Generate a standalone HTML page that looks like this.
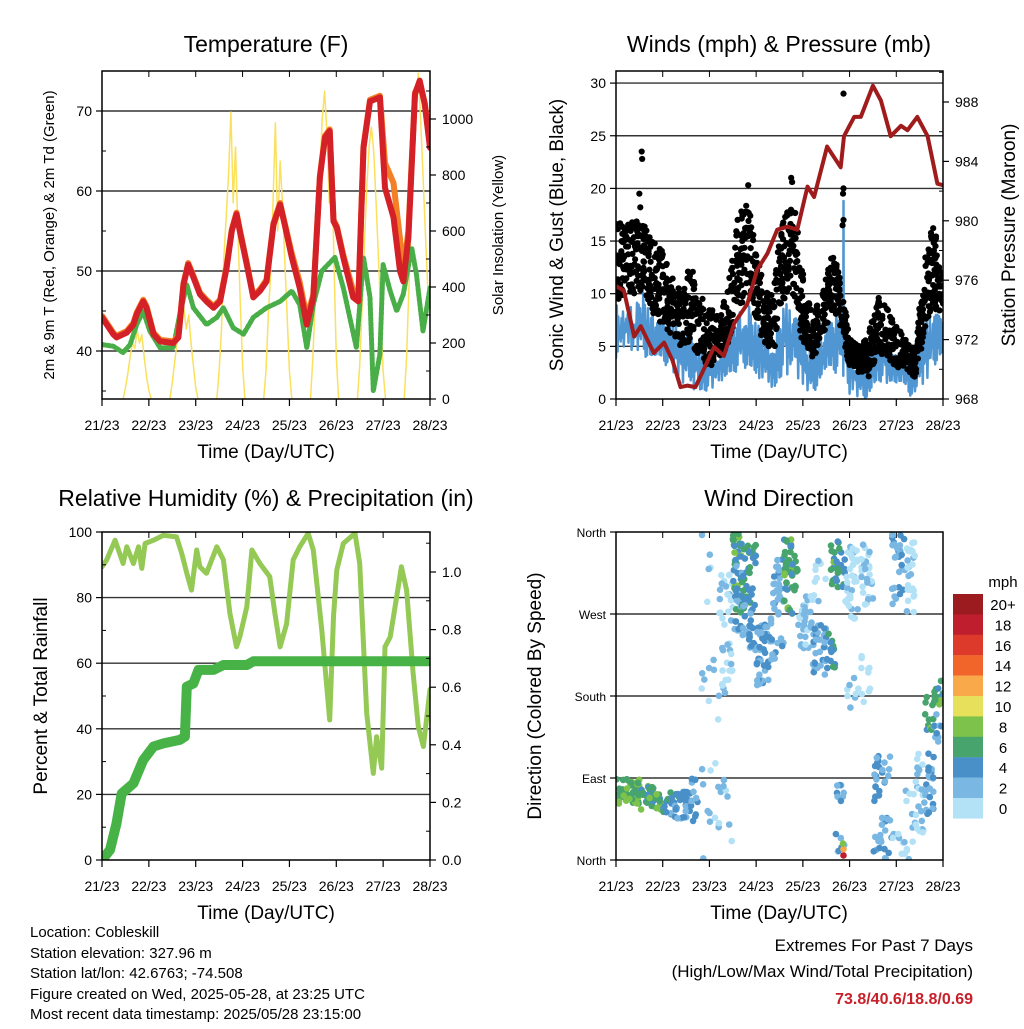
<!DOCTYPE html>
<html><head><meta charset="utf-8"><style>
html,body{margin:0;padding:0;background:#fff;}
svg text{font-family:"Liberation Sans",Arial,sans-serif;fill:#000;}
</style></head><body>
<svg id="chart" width="1024" height="1024" viewBox="0 0 1024 1024" xmlns="http://www.w3.org/2000/svg">
<defs>
<clipPath id="c1"><rect x="102" y="71" width="328" height="328"/></clipPath>
<clipPath id="c2"><rect x="616" y="71" width="327" height="328"/></clipPath>
<clipPath id="c3"><rect x="102" y="532" width="328" height="328"/></clipPath>
<clipPath id="c4"><rect x="616" y="532" width="327" height="328"/></clipPath>
</defs>
<g id="g1"></g>
<g id="g2"></g>
<g id="g3"></g>
<g id="g4"></g>
<text x="266" y="52" font-size="23" text-anchor="middle">Temperature (F)</text>
<text x="779" y="52" font-size="23" text-anchor="middle">Winds (mph) &amp; Pressure (mb)</text>
<text x="266" y="506" font-size="23" text-anchor="middle">Relative Humidity (%) &amp; Precipitation (in)</text>
<text x="779" y="506" font-size="23" text-anchor="middle">Wind Direction</text>
<text transform="translate(54,235) rotate(-90)" font-size="15" text-anchor="middle">2m &amp; 9m T (Red, Orange) &amp; 2m Td (Green)</text>
<text transform="translate(503,235) rotate(-90)" font-size="15" text-anchor="middle">Solar Insolation (Yellow)</text>
<text transform="translate(563,235) rotate(-90)" font-size="19" text-anchor="middle">Sonic Wind &amp; Gust (Blue, Black)</text>
<text transform="translate(1015,235) rotate(-90)" font-size="19" text-anchor="middle">Station Pressure (Maroon)</text>
<text transform="translate(47,696) rotate(-90)" font-size="19" text-anchor="middle">Percent &amp; Total Rainfall</text>
<text transform="translate(541,696) rotate(-90)" font-size="19" text-anchor="middle">Direction (Colored By Speed)</text>
<text x="266" y="458" font-size="19" text-anchor="middle">Time (Day/UTC)</text>
<text x="779" y="458" font-size="19" text-anchor="middle">Time (Day/UTC)</text>
<text x="266" y="919" font-size="19" text-anchor="middle">Time (Day/UTC)</text>
<text x="779" y="919" font-size="19" text-anchor="middle">Time (Day/UTC)</text>
<g font-size="15">
<text x="30" y="937">Location: Cobleskill</text>
<text x="30" y="958">Station elevation: 327.96 m</text>
<text x="30" y="978">Station lat/lon: 42.6763; -74.508</text>
<text x="30" y="999">Figure created on Wed, 2025-05-28, at 23:25 UTC</text>
<text x="30" y="1019">Most recent data timestamp: 2025/05/28 23:15:00</text>
</g>
<text x="973" y="951" font-size="17" text-anchor="end">Extremes For Past 7 Days</text>
<text x="973" y="977" font-size="17" text-anchor="end">(High/Low/Max Wind/Total Precipitation)</text>
<text x="973" y="1004" font-size="16" font-weight="bold" text-anchor="end" style="fill:#c8202a">73.8/40.6/18.8/0.69</text>
<g id="cbar"></g>
</svg>
<script>
const dayLabels=["21/23","22/23","23/23","24/23","25/23","26/23","27/23","28/23"];
// Temperature
const tempT=[0,0.24,0.31,0.53,0.67,0.74,0.88,0.95,1.1,1.24,1.52,1.63,1.74,1.84,1.95,2.09,2.23,2.38,2.52,2.66,2.77,2.87,2.94,3.09,3.23,3.37,3.51,3.66,3.8,3.9,4.05,4.22,4.37,4.51,4.65,4.76,4.86,4.94,5.01,5.15,5.36,5.47,5.58,5.72,5.93,6.04,6.22,6.36,6.43,6.54,6.68,6.78,6.89,7.0];
const tempRed=[44.2,42.1,41.7,42.3,43.3,44.6,46.2,45.4,42.1,41.2,41.0,41.7,48.3,50.8,49.2,47.1,46.2,45.4,46.2,50.4,55,57.1,55,50.8,46.7,47.5,48.7,55.8,58.3,55.8,51.7,47.9,43.3,46.7,61.7,66.7,67.5,56.2,55.4,51.7,46.7,46.2,65.4,71.2,71.7,60.4,56.7,50,48.7,54.2,72.1,73.8,70.8,65.4];
const tempOrange=[44.4,42.3,41.9,42.5,43.5,44.8,46.4,45.6,42.3,41.4,41.2,41.9,48.5,51,49.4,47.3,46.4,45.6,46.4,50.6,55.2,57.3,55.2,51,46.9,47.7,48.9,56,58.5,56,52.2,48.6,44.2,47,61.9,66.9,67.7,56.4,55.6,52,47.5,46.5,65.6,71.4,71.9,63.5,61,54,50,55,72.3,73.6,71,65.6];
const dewT=[0,0.24,0.45,0.6,0.74,0.88,1.02,1.24,1.52,1.66,1.81,1.95,2.23,2.45,2.59,2.8,3.02,3.23,3.51,3.8,4.05,4.22,4.37,4.51,4.69,4.97,5.15,5.43,5.58,5.72,5.79,5.93,6.0,6.15,6.29,6.43,6.61,6.71,6.85,7.0];
const dewVal=[40.8,40.6,39.8,40.8,43.3,45,42.5,40.4,40.4,44.6,48.3,45.4,43.3,44.2,45.4,42.9,42.1,44.2,45.4,46.2,47.5,45.8,40.4,45.8,50,51.7,47.9,40.4,51.7,46.7,35,39.6,50.8,47.5,45,47.1,52.9,49.6,42.5,47.9];
const solarStart=[0.45,1.45,2.45,3.45,4.45,5.45,6.45];
const solarDay0=[0,40,90,150,200,180,246,200,230,150,80,30,0];
const solarDay1=[0,60,130,200,280,364,320,250,300,200,120,40,0];
const solarDay2=[0,100,250,500,650,800,1025,700,900,600,350,120,0];
const solarDay3=[0,100,300,450,700,986,600,850,700,500,300,100,0];
const solarDay4=[0,150,350,600,800,1000,1100,950,700,900,500,150,0];
const solarDay5=[0,120,330,550,750,900,971,880,700,500,300,100,0];
const solarDay6=[0,150,400,650,850,1050,1164,1000,800,600,400];
const solarDays=[solarDay0,solarDay1,solarDay2,solarDay3,solarDay4,solarDay5,solarDay6];
// Winds
const presT=[0,0.17,0.39,0.53,0.81,1.03,1.21,1.38,1.53,1.7,1.88,2.1,2.31,2.53,2.81,3.02,3.24,3.45,3.67,3.88,4.1,4.24,4.52,4.81,4.88,5.1,5.24,5.5,5.67,5.88,6.1,6.24,6.45,6.67,6.88,7.0];
const presVal=[975.6,975.3,972.2,972.9,971.1,971.8,970.6,968.8,968.9,968.8,970,971.5,970.9,973.1,974.4,976.7,977.8,979.4,979.6,979.4,982.3,981.6,985,983.6,985.7,987,987,989.1,988.1,985.7,986.4,986.1,987,985.7,982.5,982.4];
const windT=[0,0.2,0.4,0.6,0.8,1.0,1.2,1.4,1.6,1.8,2.0,2.2,2.4,2.6,2.8,3.0,3.2,3.4,3.6,3.8,4.0,4.2,4.4,4.6,4.8,5.0,5.2,5.4,5.6,5.8,6.0,6.2,6.4,6.6,6.8,7.0];
const windHi=[9.1,8.4,9,10.5,9,8.5,7.5,6.6,6,5.5,4.5,5,6.5,8,9.4,7.5,6,6.5,9.8,9.4,6,4.5,6,9.1,9.4,5,4,4.5,7,6,4.5,5.5,3.5,7,9.5,8];
const windLo=[3.9,5,4.5,4,2.7,3.4,2.7,1.2,1,0.8,0.5,1.5,2,2.7,3,2,1.5,1,2.5,2,1,0.5,1.5,2,2.5,0.5,0,0,1,1.5,0.5,0.5,0,1.5,3,3];
const gustHi=[17,16.5,17,16.5,15,14,12,10,13,10,9,8,11,17,20,14,10,12,18,19.5,12,8,10,14,12,6,5,6,10,9,7,6,5,13,17,12];
const gustLo=[9,10,10,10,8,7,6,5,5,4,3,4,5,8,10,7,5,5,9,10,5,4,5,8,7,3,2.5,2,4,4,3,3,2,6,9,7];
const spikeT=[4.87];
const spikeVal=[18.8];
const gustOutT=[0.55,0.56,0.5,0.52,4.87,4.87,4.86,4.87,4.85,2.83,3.75,3.77];
const gustOutVal=[23.5,22.8,19.5,18.2,29,20,19.5,17,16.5,20.3,21,20.6];
// Humidity & precip
const rhT=[0,0.1,0.28,0.45,0.53,0.67,0.78,0.85,0.92,1.1,1.31,1.59,1.7,1.81,1.91,2.02,2.09,2.23,2.45,2.59,2.73,2.87,2.94,3.09,3.2,3.37,3.58,3.69,3.8,3.94,4.08,4.22,4.4,4.51,4.69,4.86,4.94,5.01,5.15,5.4,5.5,5.65,5.79,5.86,5.97,6.04,6.15,6.29,6.39,6.5,6.64,6.75,6.86,7.0];
const rhVal=[89.4,91.5,97.5,90.4,95.5,90.4,95.5,88.9,96.5,97.5,99,98.5,93.5,87.4,82.3,94.5,89.4,87.4,95.5,91.5,75.2,65,68,77.2,94.5,90.4,86.4,75.2,65,72,91.5,95.5,99.6,94.5,70.1,42.7,74.2,88.4,96.5,99.6,90.4,44.8,26.4,37.6,28,65,68,80.3,89.4,82.3,57,40.6,34.6,52];
const prT=[0,0.17,0.31,0.42,0.67,0.88,1.1,1.31,1.66,1.77,1.81,1.95,2.06,2.38,2.59,3.09,3.23,4.01,4.08,7.0];
const prVal=[0,0.035,0.127,0.231,0.266,0.347,0.394,0.405,0.417,0.428,0.602,0.613,0.66,0.66,0.677,0.677,0.69,0.69,0.69,0.69];
// Wind direction bins
const dirStart=[0,0.5,1.0,1.6,1.8,2.2,2.2,2.5,2.5,2.7,2.7,3.0,3.3,3.6,3.9,4.2,4.2,4.5,4.6,4.7,4.7,4.7,4.9,4.9,5.2,5.2,5.5,5.9,5.9,6.2,6.2,6.4,6.6,6.6,6.8,6.8];
const dirEnd=[0.5,1.0,1.6,1.75,2.2,2.5,2.5,2.7,2.7,3.0,3.0,3.3,3.6,3.9,4.2,4.5,4.5,4.7,4.7,4.9,4.9,4.9,5.2,5.2,5.5,5.5,5.9,6.2,6.2,6.4,6.4,6.6,6.8,6.8,7.0,7.0];
const dirLo=[62,55,45,40,0,180,20,270,250,270,230,190,220,270,230,200,280,210,300,290,0,60,260,160,280,170,0,280,0,270,0,30,50,140,170,130];
const dirHi=[90,82,75,90,360,320,90,360,330,350,290,260,330,355,290,260,330,250,360,360,40,90,350,200,350,230,120,360,30,350,80,120,120,190,200,160];
const dirSpeed=[7.5,7,5,4,2,2,2,7,4,6.5,4,4,3.5,7,2.5,4,1.5,5.5,7,6,3,4,1.5,1.5,1.5,1,4,3.5,2,1.5,1,2,4.5,7,7,4];
const dirCount=[45,40,40,12,25,40,8,35,20,35,25,40,40,45,35,30,10,14,12,18,6,8,35,8,30,10,45,30,8,25,10,25,22,10,14,10];
const cbColors=["#9b1b1e","#be1e2d","#dd3a2c","#f1652a","#f9a94a","#e6e05a","#7dc24b","#46a46c","#4a90c8","#7ab8e3","#b3e2f7"];
const cbLabels=["20+","18","16","14","12","10","8","6","4","2","0"];

const NS="http://www.w3.org/2000/svg";
function mk(parent,tag,attrs){const e=document.createElementNS(NS,tag);for(const k in attrs)e.setAttribute(k,attrs[k]);parent.appendChild(e);return e;}
function txt(parent,x,y,s,size,anchor){const e=mk(parent,"text",{x:x,y:y,"font-size":size,"text-anchor":anchor});e.textContent=s;return e;}
function hq(n,a,b){const v=(n*n*a+n*b)%1;return v<0?v+1:v;}

const X1=t=>102+t/7*328, X2=t=>616+t/7*327;
const yT=v=>399-(v-34)*8, ySol=v=>399-v*0.28;
const yW=v=>399-v*10.53, yP=p=>399-(p-968)*14.85;
const yRH=v=>860-v*3.28, yPr=v=>860-v*288;
const yD=d=>860-d*82/90;

function frame(g,x0,y0,w,h,X){
  for(let i=0;i<8;i++){const x=X(i);
    const tk=mk(g,"line",{x1:x,x2:x,y1:y0+h,y2:y0+h+7,stroke:"#000","stroke-width":1.2});
    
    
    mk(g,"line",{x1:x,x2:x,y1:y0,y2:y0+6,stroke:"#000","stroke-width":1});
    const l=txt(g,x,y0+h+31,dayLabels[i],14,"middle");
    
    
  }
  const r=mk(g,"rect",{x:x0,y:y0,width:w,height:h,fill:"none",stroke:"#000","stroke-width":1.5});
  
  
}
function grid(g,x0,w,ys){ys.forEach(y=>{const l=mk(g,"line",{x1:x0,x2:x0+w,y1:y,y2:y,stroke:"#333","stroke-width":1.4});
  
  });}
function yTicks(g,x,vals,Y,labels,side,size,minor){
  vals.forEach((v,i)=>{const y=Y(v);
    const dx=side==="left"?-6:6;
    mk(g,"line",{x1:x,x2:x+dx,y1:y,y2:y,stroke:"#000","stroke-width":1.2});
    const l=txt(g,side==="left"?x-10:x+12,y+5,labels[i],size,side==="left"?"end":"start");
    
    
  });
  (minor||[]).forEach(v=>{const y=Y(v);mk(g,"line",{x1:x,x2:x+(side==="left"?4:-4),y1:y,y2:y,stroke:"#000","stroke-width":1});});
}
function poly(g,T,V,X,Y,attrs,name){const pts=T.map((t,i)=>X(t).toFixed(1)+","+Y(V[i]).toFixed(1)).join(" ");
  const p=mk(g,"polyline",Object.assign({points:pts,fill:"none","stroke-linejoin":"round","stroke-linecap":"round"},attrs));
  
  return p;}

// Panel 1
(function(){
  const g=document.getElementById("g1");
  grid(g,102,328,[40,50,60,70].map(yT));
  const c=mk(g,"g",{"clip-path":"url(#c1)"});
  solarDays.forEach((arr,d)=>{const T=arr.map((v,i)=>solarStart[d]+i*0.05);
    poly(c,T,arr,X1,ySol,{stroke:"#fbe05c","stroke-width":1.5},"solar-line-day"+d);});
  poly(c,dewT,dewVal,X1,yT,{stroke:"#49ae47","stroke-width":5,"stroke-dasharray":"3 2"},"dewpoint-line");
  poly(c,tempT,tempOrange,X1,yT,{stroke:"#f37f26","stroke-width":6},"temp-9m-line");
  poly(c,tempT,tempRed,X1,yT,{stroke:"#d42027","stroke-width":6},"temp-2m-line");
  yTicks(g,102,[40,50,60,70],yT,["40","50","60","70"],"left",14,[35,45,55,65,75]);
  yTicks(g,430,[0,200,400,600,800,1000],ySol,["0","200","400","600","800","1000"],"right",14,[100,300,500,700,900,1100]);
  frame(g,102,71,328,328,X1);
})();
// Panel 2
(function(){
  const g=document.getElementById("g2");
  grid(g,616,327,[5,10,15,20,25,30].map(yW));
  const c=mk(g,"g",{"clip-path":"url(#c2)"});
  const zT=[],zV=[];
  for(let i=0;i<windT.length-1;i++){for(let k=0;k<12;k++){const f=k/12;const t=windT[i]+f*(windT[i+1]-windT[i]);
    const lo=windLo[i]+f*(windLo[i+1]-windLo[i]),hi=windHi[i]+f*(windHi[i+1]-windHi[i]);
    const n=i*12+k;
    const r=k%2?0.55+0.45*hq(n,0.618,0.31):0.45*hq(n,0.414,0.27);zT.push(t);zV.push(lo+(hi-lo)*r);}}
  zT.push(spikeT[0]-0.005,spikeT[0],spikeT[0]+0.005);zV.push(6,spikeVal[0],6);
  const order=zT.map((t,i)=>i).sort((a,b)=>zT[a]-zT[b]);
  poly(c,order.map(i=>zT[i]),order.map(i=>zV[i]),X2,yW,{stroke:"#4f96d2","stroke-width":2.5},"sustained-wind-line");
  const gd=mk(c,"g",{fill:"#000"});
  
  
  for(let i=0;i<windT.length-1;i++){for(let k=0;k<40;k++){const n=i*40+k+1;const f=hq(n,0.7548,0.123);const t=windT[i]+f*(windT[i+1]-windT[i]);
    const lo=gustLo[i]+f*(gustLo[i+1]-gustLo[i]),hi=gustHi[i]+f*(gustHi[i+1]-gustHi[i]);
    const v=lo+(hi-lo)*hq(n,0.5698,0.377);
    mk(gd,"circle",{cx:X2(t).toFixed(1),cy:yW(v).toFixed(1),r:3.1});}}
  gustOutT.forEach((t,i)=>mk(gd,"circle",{cx:X2(t),cy:yW(gustOutVal[i]),r:3.1}));
  poly(c,presT,presVal,X2,yP,{stroke:"#a01c1c","stroke-width":4},"pressure-line");
  yTicks(g,616,[0,5,10,15,20,25,30],yW,["0","5","10","15","20","25","30"],"left",14);
  yTicks(g,943,[968,972,976,980,984,988],yP,["968","972","976","980","984","988"],"right",14,[970,974,978,982,986,990]);
  frame(g,616,71,327,328,X2);
})();
// Panel 3
(function(){
  const g=document.getElementById("g3");
  grid(g,102,328,[20,40,60,80].map(yRH));
  const c=mk(g,"g",{"clip-path":"url(#c3)"});
  poly(c,rhT,rhVal,X1,yRH,{stroke:"#93c954","stroke-width":5},"humidity-line");
  poly(c,prT,prVal,X1,yPr,{stroke:"#47b347","stroke-width":10},"precip-line");
  yTicks(g,102,[0,20,40,60,80,100],yRH,["0","20","40","60","80","100"],"left",14,[10,30,50,70,90]);
  yTicks(g,430,[0,0.2,0.4,0.6,0.8,1.0],yPr,["0.0","0.2","0.4","0.6","0.8","1.0"],"right",14,[0.1,0.3,0.5,0.7,0.9,1.1]);
  frame(g,102,532,328,328,X1);
})();
// Panel 4
(function(){
  const g=document.getElementById("g4");
  grid(g,616,327,[90,180,270].map(yD));
  const c=mk(g,"g",{"clip-path":"url(#c4)"});
  function col(s){let idx=10-Math.min(10,Math.floor(s/2));return cbColors[idx];}
  for(let b=0;b<dirStart.length;b++){for(let k=0;k<dirCount[b];k++){
    const n=b*50+k+1;
    const t=dirStart[b]+(dirEnd[b]-dirStart[b])*hq(n,0.7548,0.211);
    const d=dirLo[b]+(dirHi[b]-dirLo[b])*hq(n,0.5698,0.433);
    const s=Math.max(0,dirSpeed[b]+(hq(n,0.382,0.19)-0.5)*3);
    const dot=mk(c,"circle",{cx:X2(t).toFixed(1),cy:yD(d).toFixed(1),r:3.3,fill:col(s)});
    
    
  }}
  [[4.87,5,18.5],[4.87,12,12],[4.86,18,9]].forEach(p=>{mk(c,"circle",{cx:X2(p[0]),cy:yD(p[1]),r:3.3,fill:col(p[2])});});
  yTicks(g,616,[0,90,180,270,360],yD,["North","East","South","West","North"],"left",12);
  frame(g,616,532,327,328,X2);
  const cb=document.getElementById("cbar");
  cbColors.forEach((cl,i)=>{const r=mk(cb,"rect",{x:953,y:594+i*20.4,width:30,height:20.6,fill:cl});
    
    
    txt(cb,1003,594+i*20.4+16,cbLabels[i],15,"middle");});
  txt(cb,1003,587,"mph",15,"middle");
})();
</script>
</body></html>
